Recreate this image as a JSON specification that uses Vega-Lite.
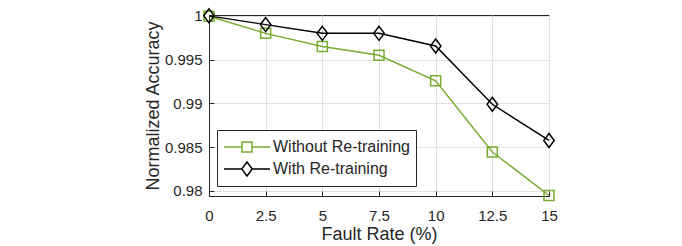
{
  "$schema": "https://vega.github.io/schema/vega-lite/v6.json",
  "width": 340,
  "height": 181,
  "autosize": "none",
  "padding": {"left": 209, "top": 15, "right": 133, "bottom": 50},
  "background": "white",
  "config": {
    "font": "Liberation Sans",
    "view": {"stroke": "#262626", "strokeWidth": 1},
    "axis": {
      "labelFont": "Liberation Sans",
      "titleFont": "Liberation Sans",
      "labelFontSize": 15,
      "titleFontSize": 18,
      "titleFontWeight": "normal",
      "labelColor": "#262626",
      "titleColor": "#262626",
      "domainColor": "#262626",
      "tickColor": "#262626",
      "gridColor": "#e0e0e0",
      "tickSize": -5,
      "labelOverlap": false,
      "labelFlush": false,
      "labelBound": false
    }
  },
  "data": {
    "values": [
      {"rate": 0, "acc": 0.99995, "series": "Without Re-training"},
      {"rate": 2.5, "acc": 0.998, "series": "Without Re-training"},
      {"rate": 5, "acc": 0.9965, "series": "Without Re-training"},
      {"rate": 7.5, "acc": 0.9955, "series": "Without Re-training"},
      {"rate": 10, "acc": 0.99257, "series": "Without Re-training"},
      {"rate": 12.5, "acc": 0.98443, "series": "Without Re-training"},
      {"rate": 15, "acc": 0.97946, "series": "Without Re-training"},
      {"rate": 0, "acc": 1.0, "series": "With Re-training"},
      {"rate": 2.5, "acc": 0.999, "series": "With Re-training"},
      {"rate": 5, "acc": 0.998, "series": "With Re-training"},
      {"rate": 7.5, "acc": 0.998, "series": "With Re-training"},
      {"rate": 10, "acc": 0.99655, "series": "With Re-training"},
      {"rate": 12.5, "acc": 0.98989, "series": "With Re-training"},
      {"rate": 15, "acc": 0.98575, "series": "With Re-training"}
    ]
  },
  "encoding": {
    "x": {
      "field": "rate", "type": "quantitative",
      "scale": {"domain": [0, 15], "nice": false},
      "axis": {"values": [0, 2.5, 5, 7.5, 10, 12.5, 15], "format": ".1~f", "title": "Fault Rate (%)", "titlePadding": 2, "labelPadding": 17}
    },
    "y": {
      "field": "acc", "type": "quantitative",
      "scale": {"domain": [0.9794, 1.0001], "nice": false, "zero": false},
      "axis": {"values": [0.98, 0.985, 0.99, 0.995, 1.0], "format": ".3~f", "title": "Normalized Accuracy", "titlePadding": 2, "labelPadding": 12}
    }
  },
  "layer": [
    {
      "mark": {"type": "line", "strokeWidth": 1.5},
      "encoding": {
        "color": {
          "field": "series", "type": "nominal",
          "scale": {"domain": ["Without Re-training", "With Re-training"], "range": ["#77AC30", "#000000"]},
          "legend": {
            "title": null,
            "orient": "none",
            "legendX": 8,
            "legendY": 115,
            "symbolSize": 2116,
            "clipHeight": 22,
            "rowPadding": 0,
            "padding": 6,
            "labelOffset": 2,
            "labelFontSize": 16,
            "labelFont": "Liberation Sans",
            "labelColor": "#262626",
            "strokeColor": "#262626",
            "fillColor": "white",
            "symbolStrokeWidth": 1.5,
            "encode": {
              "symbols": {
                "update": {
                  "shape": {"signal": "datum.value === 'With Re-training' ? 'M-1,0H-0.228M0.228,0H1M0,-0.304L0.228,0L0,0.304L-0.228,0Z' : 'M-1,0H-0.217M0.217,0H1M-0.217,-0.217H0.217V0.217H-0.217Z'"},
                  "fill": {"value": "transparent"},
                  "strokeWidth": {"value": 1.5}
                }
              }
            }
          }
        }
      }
    },
    {
      "transform": [{"filter": "datum.series === 'Without Re-training'"}],
      "mark": {"type": "point", "filled": false, "strokeWidth": 1.5, "opacity": 1, "shape": "square", "size": 100, "color": "#77AC30"}
    },
    {
      "transform": [{"filter": "datum.series === 'With Re-training'"}],
      "mark": {"type": "point", "filled": false, "strokeWidth": 1.5, "opacity": 1, "shape": "M0,-1L0.75,0L0,1L-0.75,0Z", "size": 196, "color": "#000000"}
    }
  ]
}
